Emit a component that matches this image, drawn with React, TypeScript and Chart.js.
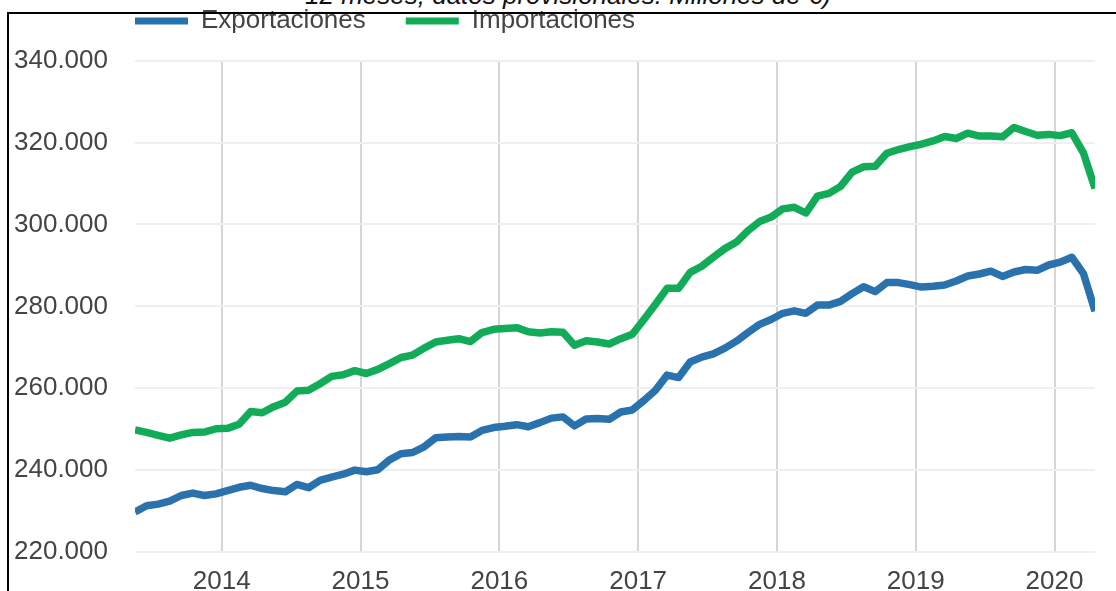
import React, { useEffect, useRef } from 'react';
import { Chart, registerables } from 'chart.js';

Chart.register(...registerables);

// Monthly categories (12-month cumulative, provisional data)
const MONTHS: string[] = [
  '2013-05', '2013-06', '2013-07', '2013-08', '2013-09', '2013-10', '2013-11', '2013-12',
  '2014-01', '2014-02', '2014-03', '2014-04', '2014-05', '2014-06', '2014-07', '2014-08', '2014-09', '2014-10', '2014-11', '2014-12',
  '2015-01', '2015-02', '2015-03', '2015-04', '2015-05', '2015-06', '2015-07', '2015-08', '2015-09', '2015-10', '2015-11', '2015-12',
  '2016-01', '2016-02', '2016-03', '2016-04', '2016-05', '2016-06', '2016-07', '2016-08', '2016-09', '2016-10', '2016-11', '2016-12',
  '2017-01', '2017-02', '2017-03', '2017-04', '2017-05', '2017-06', '2017-07', '2017-08', '2017-09', '2017-10', '2017-11', '2017-12',
  '2018-01', '2018-02', '2018-03', '2018-04', '2018-05', '2018-06', '2018-07', '2018-08', '2018-09', '2018-10', '2018-11', '2018-12',
  '2019-01', '2019-02', '2019-03', '2019-04', '2019-05', '2019-06', '2019-07', '2019-08', '2019-09', '2019-10', '2019-11', '2019-12',
  '2020-01', '2020-02', '2020-03', '2020-04',
];

// Millones de € (acumulado 12 meses)
const EXPORTACIONES: number[] = [
  229800, 231300, 231700, 232400, 233800, 234400, 233800, 234200,
  235000, 235800, 236300, 235500, 235000, 234700, 236500, 235700, 237500, 238300, 239000, 240000,
  239600, 240100, 242500, 244000, 244300, 245700, 247900, 248100, 248200, 248100, 249700, 250400,
  250700, 251100, 250600, 251600, 252700, 253000, 250800, 252500, 252600, 252400, 254200, 254700,
  257000, 259500, 263200, 262600, 266400, 267600, 268400, 269800, 271500, 273600, 275600, 276800,
  278300, 278900, 278300, 280300, 280300, 281200, 283100, 284800, 283600, 285800, 285800, 285300,
  284700, 284900, 285200, 286200, 287400, 287900, 288600, 287300, 288400, 289000, 288800, 290100,
  290800, 292000, 288000, 278800,
];

const IMPORTACIONES: number[] = [
  249800, 249200, 248500, 247800, 248600, 249200, 249300, 250100,
  250200, 251200, 254300, 254000, 255500, 256600, 259300, 259500, 261100, 262900, 263300, 264300,
  263600, 264600, 266000, 267500, 268100, 269800, 271300, 271700, 272100, 271400, 273600, 274400,
  274600, 274800, 273800, 273500, 273800, 273700, 270500, 271600, 271300, 270800, 272100, 273200,
  276800, 280500, 284400, 284400, 288300, 289800, 292000, 294100, 295700, 298500, 300700, 301800,
  303800, 304200, 302800, 306900, 307600, 309300, 312800, 314100, 314200, 317400, 318300, 319000,
  319600, 320400, 321500, 321000, 322300, 321600, 321600, 321400, 323700, 322700, 321800, 322000,
  321700, 322400, 317500, 308800,
];

const YEAR_TICKS: number[] = [2014, 2015, 2016, 2017, 2018, 2019, 2020];
const Y_TICKS: number[] = [220000, 240000, 260000, 280000, 300000, 320000, 340000];
const TITLE_TEXT = '12 meses; datos provisionales. Millones de €)';

const BLUE = '#2a72ad';
const GREEN = '#12ab58';
const FONT = "'Liberation Sans', Arial, sans-serif";

// month label -> decimal year at mid-month
const toX = (m: string): number => {
  const [y, mo] = m.split('-').map(Number);
  return y + (mo - 0.5) / 12;
};

const fmtThousands = (v: number): string =>
  String(Math.round(v)).replace(/\B(?=(\d{3})+(?!\d))/g, '.');

// moves the legend block so that its first item starts above the plot's left edge
const legendOffset = {
  id: 'legendOffset',
  afterLayout(chart: any) {
    const lg = chart.legend;
    if (lg) {
      lg.left += 95;
      lg.right += 95;
    }
  },
};

export default function App() {
  const canvasRef = useRef<HTMLCanvasElement>(null);

  useEffect(() => {
    const canvas = canvasRef.current;
    if (!canvas) return;
    const chart = new Chart(canvas, {
      type: 'line',
      data: {
        datasets: [
          {
            label: 'Exportaciones',
            data: MONTHS.map((m, i) => ({ x: toX(m), y: EXPORTACIONES[i] })),
            borderColor: BLUE,
            backgroundColor: BLUE,
            borderWidth: 7.5,
            borderJoinStyle: 'round',
            pointRadius: 0,
            tension: 0,
            fill: false,
          },
          {
            label: 'Importaciones',
            data: MONTHS.map((m, i) => ({ x: toX(m), y: IMPORTACIONES[i] })),
            borderColor: GREEN,
            backgroundColor: GREEN,
            borderWidth: 7.5,
            borderJoinStyle: 'round',
            pointRadius: 0,
            tension: 0,
            fill: false,
          },
        ],
      },
      plugins: [legendOffset],
      options: {
        responsive: false,
        animation: false,
        devicePixelRatio: 1,
        layout: { padding: { left: 0, right: 21, top: 0, bottom: 0 } },
        plugins: {
          legend: {
            display: true,
            position: 'top',
            align: 'start',
            labels: {
              boxWidth: 53,
              boxHeight: 7,
              padding: 40,
              color: '#444',
              font: { family: FONT, size: 26 },
              generateLabels: (c: any) =>
                Chart.defaults.plugins.legend.labels
                  .generateLabels(c)
                  .map((l: any) => ({ ...l, lineWidth: 0 })),
            },
          },
          title: {
            display: true,
            text: '',
            weight: 500,
            padding: 0,
            font: { size: 16.7, lineHeight: 1 },
          },
          tooltip: { enabled: false },
        },
        scales: {
          x: {
            type: 'linear',
            min: toX(MONTHS[0]),
            max: toX(MONTHS[MONTHS.length - 1]),
            afterBuildTicks: (s: any) => {
              s.ticks = YEAR_TICKS.map((v) => ({ value: v }));
            },
            afterFit: (s: any) => {
              s.height = 60;
            },
            ticks: {
              autoSkip: false,
              maxRotation: 0,
              padding: 14,
              color: '#444',
              font: { family: FONT, size: 26 },
              callback: (v: any) => String(v),
            },
            grid: { color: '#d5d5d5', lineWidth: 2, drawTicks: false },
            border: { display: false },
          },
          y: {
            type: 'linear',
            min: 220000,
            max: 340000,
            afterBuildTicks: (s: any) => {
              s.ticks = Y_TICKS.map((v) => ({ value: v }));
            },
            afterFit: (s: any) => {
              s.width = 135;
            },
            ticks: {
              padding: 27,
              color: '#444',
              font: { family: FONT, size: 26 },
              callback: (v: any) => fmtThousands(Number(v)),
            },
            grid: { color: '#efefef', lineWidth: 2, drawTicks: false },
            border: { display: false },
          },
        },
      },
    } as any);
    return () => chart.destroy();
  }, []);

  return (
    <div
      style={{
        position: 'absolute',
        left: 0,
        top: 0,
        width: 1116,
        height: 591,
        overflow: 'hidden',
        background: '#fff',
      }}
    >
      <div
        style={{
          position: 'absolute',
          left: 305,
          top: -18,
          fontFamily: FONT,
          fontStyle: 'italic',
          fontSize: 26,
          lineHeight: '26px',
          whiteSpace: 'nowrap',
          color: '#111',
        }}
      >
        {TITLE_TEXT}
      </div>
      <canvas
        ref={canvasRef}
        width={1116}
        height={644}
        style={{ position: 'absolute', left: 0, top: -32, width: 1116, height: 644 }}
      />
      <div
        style={{
          position: 'absolute',
          left: 7,
          top: 12,
          width: 1400,
          height: 900,
          border: '2px solid #000',
          boxSizing: 'border-box',
          pointerEvents: 'none',
        }}
      />
    </div>
  );
}
